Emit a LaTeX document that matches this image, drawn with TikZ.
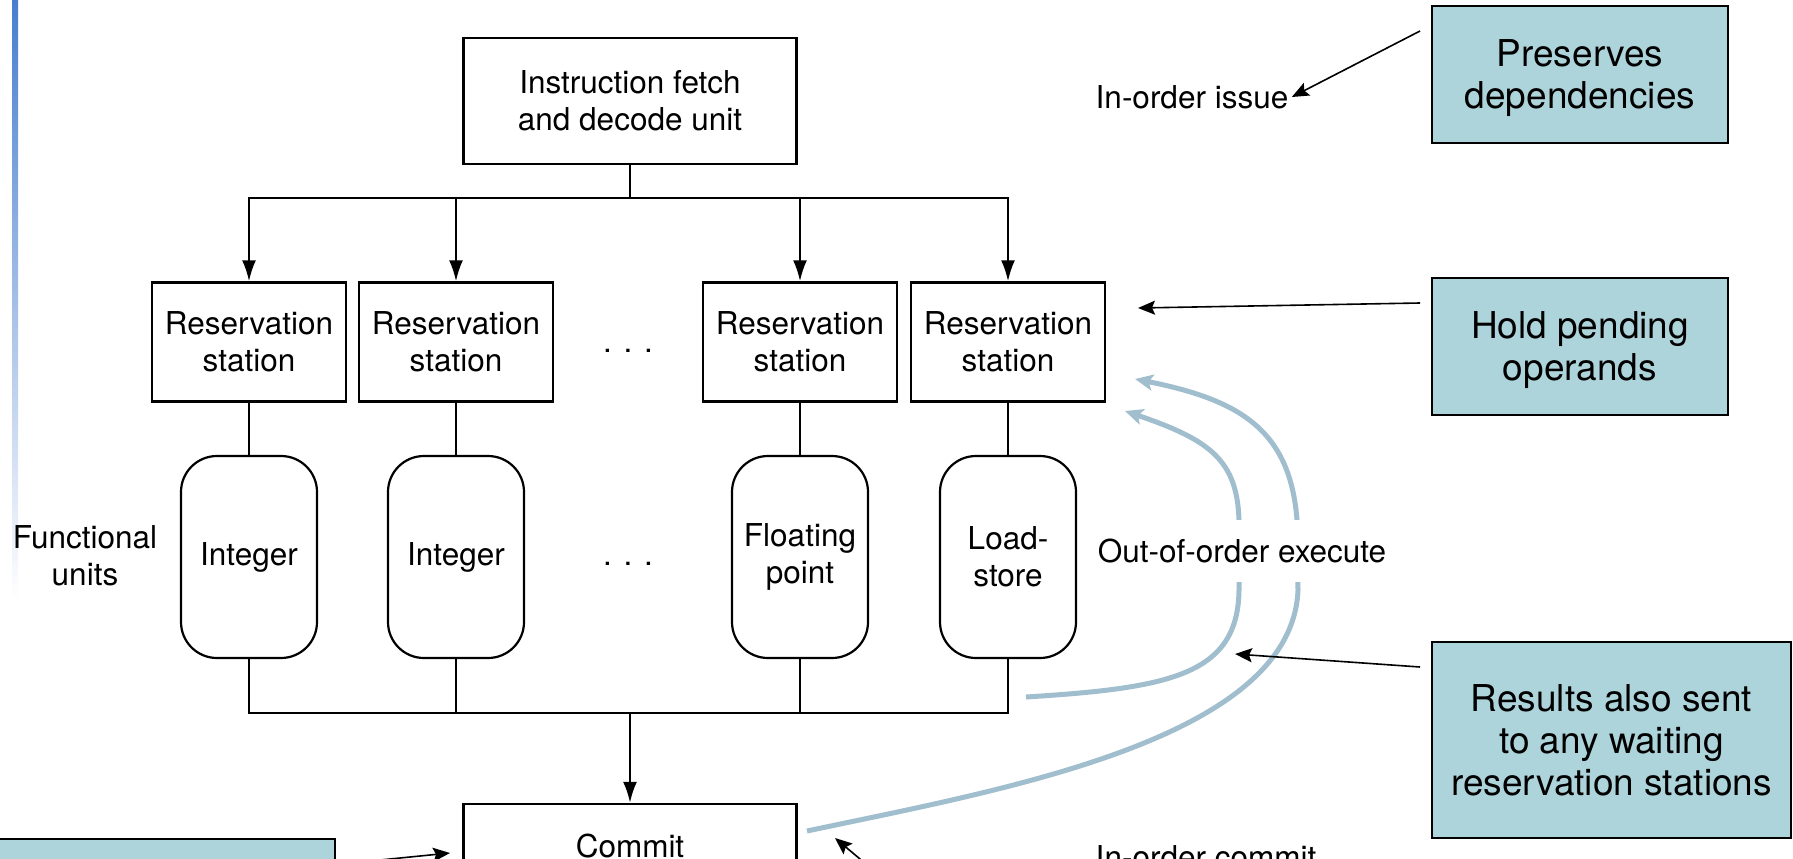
\documentclass[tikz,border=0pt]{standalone}
\usepackage{fontspec}
\setmainfont{TeX Gyre Heros}
\usetikzlibrary{arrows.meta}
\definecolor{notefill}{RGB}{174,212,219}
\definecolor{pathblue}{RGB}{160,190,205}
\definecolor{barblue}{RGB}{72,126,206}
\begin{document}
\begin{tikzpicture}[x=1pt,y=-1pt,
    unit/.style={draw,line width=2.5pt,align=center,font=\fontsize{31.5}{37}\selectfont},
    fu/.style={draw,line width=2.2pt,rounded corners=36pt,minimum width=136pt,minimum height=202pt,align=center,font=\fontsize{31.5}{37}\selectfont},
    lbl/.style={align=center,font=\fontsize{31.5}{37}\selectfont},
    note/.style={draw,line width=2pt,fill=notefill,align=center,font=\fontsize{37}{42}\selectfont},
    wire/.style={line width=2.2pt,line cap=rect},
    flow/.style={line width=2.2pt,-{Latex[length=21pt,width=14pt]}},
    hint/.style={line width=1.6pt,-{Stealth[length=17pt,width=14pt,inset=3pt]}},
    back/.style={pathblue,line width=5pt,-{Stealth[length=18pt,width=16pt,inset=4pt]}}]
    \useasboundingbox (0,0) rectangle (1793,859);
    \clip (0,0) rectangle (1793,859);
    \shade[top color=barblue,bottom color=white] (12,0) rectangle (18,600); % side bar
    % units
    \node (fetch) [unit,minimum width=333pt,minimum height=126pt] at (630,101) {Instruction fetch\\and decode unit};
    \foreach \x/\i in {249/1,456/2,800/3,1008/4}
        \node (rs\i) [unit,minimum width=194pt,minimum height=119pt] at (\x,342) {Reservation\\station};
    \node (fu1) [fu] at (249,557) {Integer};
    \node (fu2) [fu] at (456,557) {Integer};
    \node (fu3) [fu] at (800,557) {Floating\\point};
    \node (fu4) [fu] at (1008,557) {Load-\\store};
    \node (commit) [unit,minimum width=333pt,minimum height=84pt] at (630,846) {Commit};
    \node (dots1) [lbl] at (628,351) {. . .};
    \node (dots2) [lbl] at (628,564) {. . .};
    \node (fulbl) [lbl] at (85,556) {Functional\\units};
    % buses
    \coordinate (ibus) at (630,198);
    \coordinate (rbus) at (630,713);
    \draw[wire] (fetch) -- (ibus);
    \draw[wire] (rs1.north |- ibus) -- (rs4.north |- ibus);
    \foreach \i in {1,...,4} {
        \draw[flow] (rs\i.north |- ibus) -- (rs\i);
        \draw[wire] (rs\i) -- (fu\i);
        \draw[wire] (fu\i) -- (fu\i.south |- rbus);
    }
    \draw[wire] (fu1.south |- rbus) -- (fu4.south |- rbus);
    \draw[flow] (rbus) -- (commit);
    % results fed back
    \coordinate (fwdin) at (1026,697);
    \coordinate (fwdout) at (807,831);
    \draw[back] (fwdin) .. controls (1170,688) and (1238,675) .. (1239,590) -- (1239,520) .. controls (1237,460) and (1210,440) .. (1125,411);
    \draw[back] (fwdout) .. controls (1000,790) and (1292,740) .. (1298,590) -- (1297,520) .. controls (1290,430) and (1240,400) .. (1135,379);
    \node (ooo) [lbl,fill=white,inner xsep=3pt,minimum height=62pt] at (1242,551) {Out-of-order execute};
    \node (issuelbl) [lbl] at (1192,97) {In-order issue};
    \node (commitlbl) [lbl,anchor=base] at (1206,868) {In-order commit};
    % notes
    \node (deps) [note,text depth=0pt,minimum width=296pt,minimum height=137pt] at (1580,74.5) {Preserves\\dependencies};
    \node (hold) [note,text depth=0pt,minimum width=296pt,minimum height=137pt] at (1580,346.5) {Hold pending\\operands};
    \node (results) [note,minimum width=359pt,minimum height=196pt] at (1611.5,740) {Results also sent\\to any waiting\\reservation stations};
    \node (leftnote) [note,anchor=north east,minimum width=360pt,minimum height=100pt] at (336,838) {};
    \coordinate (depsfrom) at (1420,31);
    \coordinate (holdfrom) at (1420,303);
    \coordinate (holdto) at (1138,308);
    \coordinate (resfrom) at (1420,667);
    \coordinate (resto) at (1235,654);
    \coordinate (leftfrom) at (380,860);
    \coordinate (leftto) at (450,853);
    \coordinate (lowfrom) at (885,880);
    \coordinate (lowto) at (835,838);
    \draw[hint] (depsfrom) -- (issuelbl.east);
    \draw[hint] (holdfrom) -- (holdto);
    \draw[hint] (resfrom) -- (resto);
    \draw[hint] (leftfrom) -- (leftto);
    \draw[hint] (lowfrom) -- (lowto);
\end{tikzpicture}
\end{document}
